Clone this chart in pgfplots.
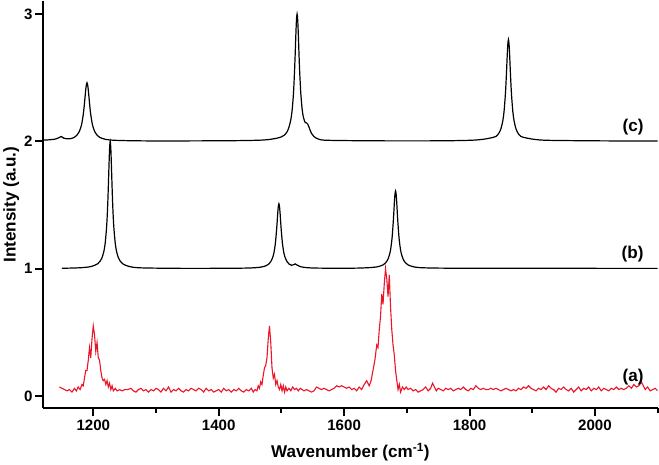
\documentclass[border=0pt]{standalone}
\usepackage{pgfplots}
\pgfplotsset{compat=1.18}
\usepackage{fontspec}
\setmainfont{Liberation Sans}
\begin{document}
\begin{tikzpicture}
\begin{axis}[
  scale only axis,
  width=612pt, height=405pt,
  xmin=1120, xmax=2100, ymin=-0.095, ymax=3.10,
  axis x line*=bottom, axis y line*=left,
  axis line style={line width=2.6pt},
  xtick={1200,1400,1600,1800,2000},
  minor xtick={1300,1500,1700,1900,2100},
  ytick={0,1,2,3},
  tick align=outside,
  major tick length=8pt, minor tick length=4.5pt,
  tick style={line width=2pt,black},
  /pgf/number format/assume math mode=true,
  /pgf/number format/1000 sep={},
  tick label style={font=\fontsize{15}{17}\selectfont\bfseries},
  yticklabel style={xshift=1pt},
  label style={font=\fontsize{17}{20}\selectfont\bfseries},
  xlabel={Wavenumber (cm\textsuperscript{-1})},
  ylabel={Intensity (a.u.)},
  xlabel style={yshift=-6pt},
  ylabel style={yshift=-2pt},
  clip=true,
]
% (a) red
\addplot[color={rgb,255:red,235;green,20;blue,40}, line width=1.1pt] coordinates {
(1146,0.07)(1150,0.06)(1154,0.05)(1158,0.04)(1162,0.05)(1166,0.03)(1170,0.06)(1173,0.04)(1176,0.07)(1179,0.05)
(1182,0.09)(1184,0.08)(1186,0.14)(1188,0.20)(1190,0.20)(1192,0.28)(1194,0.38)(1196,0.30)(1198,0.45)(1200,0.55)
(1202,0.48)(1204,0.35)(1206,0.42)(1208,0.30)(1210,0.28)(1212,0.20)(1214,0.14)(1216,0.12)(1218,0.13)(1220,0.09)
(1222,0.12)(1224,0.07)(1226,0.10)(1228,0.05)(1230,0.08)(1232,0.04)(1235,0.06)(1238,0.04)(1242,0.05)(1246,0.04)
(1250,0.05)(1255,0.05)(1260,0.06)(1264,0.04)(1268,0.03)(1272,0.05)(1276,0.06)(1280,0.04)(1284,0.05)(1288,0.03)
(1292,0.05)(1296,0.04)(1300,0.06)(1304,0.05)(1308,0.03)(1312,0.06)(1316,0.04)(1320,0.07)(1324,0.03)(1328,0.05)
(1332,0.04)(1336,0.06)(1340,0.04)(1344,0.03)(1348,0.05)(1352,0.04)(1356,0.06)(1360,0.05)(1364,0.04)(1368,0.06)
(1372,0.05)(1376,0.03)(1380,0.06)(1384,0.04)(1388,0.05)(1392,0.03)(1396,0.04)(1400,0.05)(1404,0.03)(1408,0.06)
(1412,0.04)(1416,0.05)(1420,0.03)(1424,0.05)(1428,0.04)(1432,0.06)(1436,0.04)(1440,0.03)(1444,0.05)(1448,0.04)
(1452,0.06)(1455,0.03)(1458,0.05)(1461,0.04)(1463,0.08)(1465,0.06)(1467,0.11)(1469,0.09)(1471,0.16)(1473,0.22)
(1475,0.24)(1477,0.30)(1479,0.45)(1481,0.55)(1483,0.42)(1485,0.22)(1487,0.14)(1489,0.17)(1491,0.09)(1493,0.12)
(1495,0.07)(1497,0.05)(1499,0.09)(1501,0.04)(1503,0.08)(1505,0.03)(1507,0.07)(1509,0.04)(1512,0.06)(1515,0.04)
(1518,0.07)(1521,0.05)(1524,0.06)(1527,0.04)(1530,0.06)(1533,0.05)(1536,0.04)(1540,0.05)(1544,0.04)(1548,0.03)
(1552,0.04)(1556,0.07)(1560,0.06)(1564,0.05)(1568,0.06)(1572,0.05)(1576,0.04)(1580,0.05)(1584,0.06)(1588,0.08)
(1592,0.07)(1596,0.08)(1600,0.07)(1604,0.06)(1608,0.07)(1612,0.05)(1616,0.06)(1620,0.04)(1624,0.07)(1628,0.05)
(1632,0.09)(1636,0.12)(1638,0.10)(1640,0.08)(1643,0.12)(1646,0.20)(1649,0.28)(1652,0.40)(1654,0.38)(1656,0.52)
(1658,0.62)(1660,0.80)(1662,0.72)(1664,0.88)(1666,1.00)(1668,0.92)(1670,0.78)(1672,0.95)(1674,0.70)(1676,0.52)
(1678,0.40)(1680,0.32)(1682,0.20)(1684,0.12)(1686,0.05)(1688,0.09)(1690,0.03)(1693,0.07)(1696,0.05)(1699,0.07)
(1702,0.05)(1706,0.06)(1710,0.04)(1714,0.05)(1718,0.03)(1722,0.04)(1726,0.05)(1730,0.07)(1734,0.04)(1738,0.06)
(1741,0.10)(1744,0.07)(1747,0.04)(1750,0.06)(1754,0.05)(1758,0.04)(1762,0.06)(1766,0.05)(1770,0.06)(1774,0.04)
(1778,0.05)(1782,0.06)(1786,0.05)(1790,0.07)(1794,0.05)(1798,0.04)(1802,0.06)(1806,0.05)(1810,0.08)(1814,0.06)
(1818,0.05)(1822,0.06)(1826,0.05)(1830,0.05)(1834,0.06)(1838,0.05)(1842,0.06)(1846,0.05)(1850,0.04)(1854,0.05)
(1858,0.06)(1862,0.05)(1866,0.04)(1870,0.05)(1874,0.04)(1878,0.06)(1882,0.05)(1886,0.07)(1890,0.06)(1894,0.08)
(1898,0.06)(1902,0.05)(1906,0.04)(1910,0.06)(1914,0.05)(1918,0.07)(1922,0.05)(1926,0.08)(1930,0.06)(1934,0.05)
(1938,0.03)(1942,0.06)(1946,0.05)(1950,0.07)(1954,0.05)(1958,0.04)(1962,0.06)(1966,0.03)(1970,0.05)(1974,0.07)
(1978,0.04)(1982,0.06)(1986,0.05)(1990,0.07)(1994,0.04)(1998,0.06)(2002,0.05)(2006,0.07)(2010,0.04)(2014,0.06)
(2018,0.05)(2022,0.04)(2026,0.06)(2030,0.05)(2034,0.07)(2038,0.05)(2042,0.06)(2046,0.05)(2050,0.06)(2054,0.08)
(2058,0.06)(2062,0.09)(2066,0.07)(2070,0.08)(2074,0.11)(2077,0.08)(2080,0.05)(2084,0.07)(2088,0.04)(2092,0.05)
(2096,0.06)(2100,0.04)
};
% (b)
\addplot[black, line width=1.2pt, smooth] coordinates {
(1150,1.003)(1170,1.005)(1185,1.009)(1197,1.017)(1207,1.038)(1211,1.059)(1214,1.086)(1217,1.138)(1219,1.2)
(1221,1.31)(1222,1.39)(1223,1.5)(1224,1.64)(1225,1.8)(1226,1.941)(1227,2.0)(1228,1.941)(1229,1.8)(1230,1.64)
(1231,1.5)(1232,1.39)(1233,1.31)(1235,1.2)(1237,1.138)(1240,1.086)(1243,1.059)(1247,1.038)(1257,1.017)
(1277,1.006)(1350,1.002)(1440,1.004)(1466,1.011)(1476,1.024)(1480,1.037)(1483,1.055)(1486,1.087)(1488,1.122)
(1490,1.184)(1491,1.23)(1492,1.286)(1493,1.352)(1494,1.426)(1495,1.486)(1496,1.51)(1497,1.486)(1498,1.426)
(1499,1.352)(1500,1.286)(1501,1.23)(1502,1.184)(1504,1.122)(1506,1.087)(1509,1.055)(1512,1.037)(1516,1.027)
(1519,1.03)(1522,1.037)(1525,1.028)(1530,1.016)(1540,1.008)(1560,1.004)(1620,1.004)(1650,1.012)(1662,1.029)
(1666,1.045)(1669,1.065)(1672,1.104)(1674,1.146)(1676,1.22)(1677,1.275)(1678,1.342)(1679,1.421)(1680,1.509)
(1681,1.581)(1682,1.61)(1683,1.581)(1684,1.509)(1685,1.421)(1686,1.342)(1687,1.275)(1688,1.22)(1690,1.146)
(1692,1.104)(1695,1.065)(1698,1.045)(1702,1.029)(1712,1.013)(1730,1.006)(1800,1.003)(2100,1.002)
};
% (c)
\addplot[black, line width=1.2pt, smooth] coordinates {
(1120,2.01)(1130,2.012)(1140,2.018)(1145,2.028)(1149,2.038)(1153,2.025)(1158,2.02)(1165,2.022)(1170,2.032)
(1174,2.049)(1177,2.07)(1180,2.107)(1182,2.147)(1184,2.21)(1185,2.252)(1186,2.30)(1187,2.354)(1188,2.406)
(1189,2.445)(1190,2.46)(1191,2.445)(1192,2.406)(1193,2.354)(1194,2.30)(1195,2.252)(1196,2.21)(1198,2.147)
(1200,2.107)(1203,2.07)(1206,2.049)(1210,2.032)(1220,2.015)(1240,2.007)(1300,2.003)(1420,2.005)(1470,2.01)
(1490,2.022)(1500,2.035)(1505,2.05)(1509,2.075)(1512,2.11)(1515,2.17)(1517,2.24)(1519,2.36)(1520,2.45)
(1521,2.56)(1522,2.69)(1523,2.835)(1524,2.953)(1525,3.0)(1526,2.953)(1527,2.835)(1528,2.69)(1529,2.56)
(1530,2.46)(1531,2.37)(1533,2.255)(1535,2.19)(1538,2.147)(1540,2.145)(1542,2.135)(1545,2.098)(1548,2.062)
(1552,2.037)(1560,2.016)(1575,2.008)(1650,2.004)(1750,2.004)(1800,2.008)(1820,2.015)(1832,2.025)(1842,2.038)
(1847,2.066)(1850,2.099)(1853,2.16)(1855,2.234)(1857,2.36)(1858,2.448)(1859,2.552)(1860,2.668)(1861,2.762)
(1862,2.8)(1863,2.762)(1864,2.668)(1865,2.552)(1866,2.448)(1867,2.36)(1869,2.234)(1871,2.16)(1874,2.099)
(1877,2.066)(1882,2.038)(1892,2.025)(1904,2.015)(1925,2.008)(2000,2.004)(2100,2.002)
};
\node[anchor=south east, font=\fontsize{17}{20}\selectfont\bfseries] at (axis cs:2083,2.02) {(c)};
\node[anchor=south east, font=\fontsize{17}{20}\selectfont\bfseries] at (axis cs:2083,1.02) {(b)};
\node[anchor=south east, font=\fontsize{17}{20}\selectfont\bfseries] at (axis cs:2083,0.06) {(a)};
\end{axis}
\end{tikzpicture}
\end{document}
